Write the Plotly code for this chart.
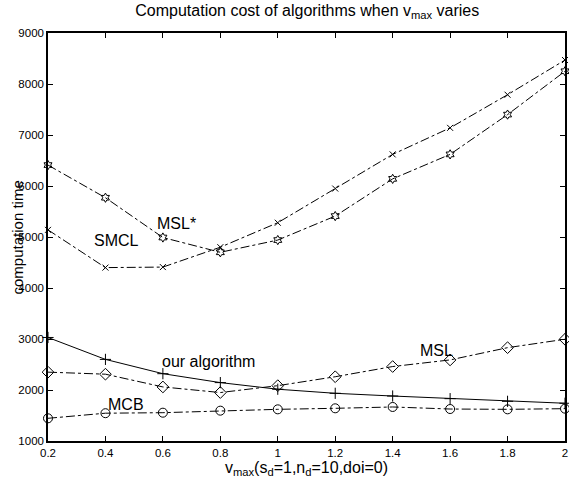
import plotly.graph_objects as go

v_max = [0.2, 0.4, 0.6, 0.8, 1.0, 1.2, 1.4, 1.6, 1.8, 2.0]
x_tick_labels = ["0.2", "0.4", "0.6", "0.8", "1", "1.2", "1.4", "1.6", "1.8", "2"]
y_ticks = [1000, 2000, 3000, 4000, 5000, 6000, 7000, 8000, 9000]

msl_star = [6410, 5770, 4990, 4700, 4940, 5410, 6140, 6620, 7400, 8250]
smcl = [5140, 4400, 4410, 4800, 5280, 5950, 6620, 7140, 7790, 8470]
our_algorithm = [3030, 2600, 2320, 2145, 2015, 1935, 1882, 1830, 1778, 1740]
msl = [2350, 2310, 2060, 1950, 2085, 2260, 2460, 2590, 2830, 2995]
mcb = [1445, 1545, 1555, 1595, 1621, 1641, 1667, 1627, 1621, 1634]

labels = ["MSL*", "SMCL", "our algorithm", "MSL", "MCB"]
label_x = [0.646, 0.44, 0.76, 1.553, 0.47]
label_y = [5270, 4930, 2555, 2770, 1706]

FONT = "Liberation Sans, Arial, Helvetica, sans-serif"

fig = go.Figure()

series = [
    (msl_star, "hexagram-open", "dashdot", 7),
    (smcl, "x-thin", "dashdot", 6),
    (our_algorithm, "cross-thin", "solid", 8),
    (msl, "diamond-open", "dashdot", 9),
    (mcb, "circle-open", "dashdot", 9),
]
for ys, sym, dash, size in series:
    fig.add_trace(go.Scatter(
        x=v_max, y=ys, mode="lines+markers",
        line=dict(color="black", width=1, dash=dash),
        marker=dict(symbol=sym, size=size, color="black",
                    line=dict(color="black", width=1)),
        showlegend=False, cliponaxis=False,
    ))

for t, lx, ly in zip(labels, label_x, label_y):
    fig.add_annotation(x=lx, y=ly, text=t, showarrow=False,
                       font=dict(family=FONT, size=16, color="black"))

fig.add_annotation(xref="paper", yref="paper", x=-0.059, y=0.5,
                   text="computation time", textangle=-90, showarrow=False,
                   xanchor="center", yanchor="middle",
                   font=dict(family=FONT, size=15, color="black"))

fig.update_layout(
    width=569, height=485,
    margin=dict(l=48, r=2, t=33, b=44),
    plot_bgcolor="white", paper_bgcolor="white",
    font=dict(family=FONT, size=11.5, color="black"),
    title=dict(text="Computation cost of algorithms when v<sub>max</sub> varies",
               x=0.54, xanchor="center", y=0.99, yanchor="top",
               font=dict(family=FONT, size=16, color="black")),
)
fig.update_xaxes(
    range=[0.2, 2.0], tickvals=v_max, ticktext=x_tick_labels,
    ticks="inside", ticklen=5, tickcolor="black",
    showline=True, linecolor="black", linewidth=1.5, mirror="ticks",
    showgrid=False, zeroline=False,
    title=dict(text="v<sub>max</sub>(s<sub>d</sub>=1,n<sub>d</sub>=10,doi=0)",
               font=dict(family=FONT, size=16, color="black"), standoff=0),
    tickfont=dict(family=FONT, size=11.5),
)
fig.update_yaxes(
    range=[1000, 9000], tickvals=y_ticks,
    ticks="inside", ticklen=5, tickcolor="black",
    showline=True, linecolor="black", linewidth=1.5, mirror="ticks",
    showgrid=False, zeroline=False,
    tickfont=dict(family=FONT, size=11.5),
)

fig.write_html("out.html")
